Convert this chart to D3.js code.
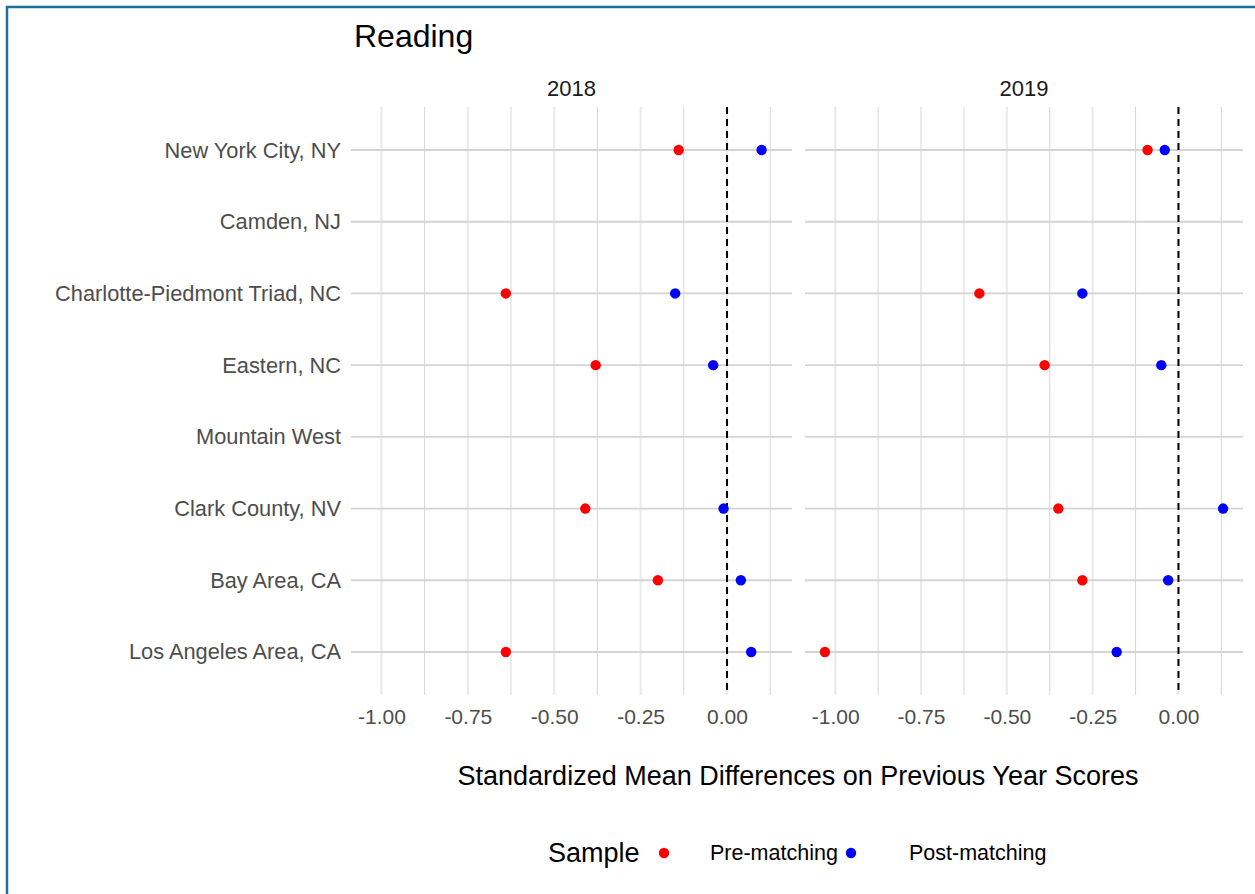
<!DOCTYPE html>
<html>
<head>
<meta charset="utf-8">
<script src="https://cdn.jsdelivr.net/npm/d3@7"></script>
<style>
  body { margin: 0; background: #fff; }
  text { font-family: "Liberation Sans", Arial, sans-serif; }
</style>
</head>
<body>
<svg id="fig" width="1255" height="894"></svg>
<script>
// data
const sites = ["New York City, NY", "Camden, NJ", "Charlotte-Piedmont Triad, NC", "Eastern, NC",
               "Mountain West", "Clark County, NV", "Bay Area, CA", "Los Angeles Area, CA"];
const years = ["2018", "2019"];
const pre2018  = [-0.14, null, -0.64, -0.38, null, -0.41, -0.20, -0.64];
const post2018 = [ 0.10, null, -0.15, -0.04, null, -0.01,  0.04,  0.07];
const pre2019  = [-0.09, null, -0.58, -0.39, null, -0.35, -0.28, -1.03];
const post2019 = [-0.04, null, -0.28, -0.05, null,  0.13, -0.03, -0.18];
const xTicks = [-1.00, -0.75, -0.50, -0.25, 0.00];
const samples = ["Pre-matching", "Post-matching"];
const sampleColors = ["#ff0000", "#0000ff"];

const series = {
  "2018": [pre2018, post2018],
  "2019": [pre2019, post2019]
};

var svg = d3.select("#fig");

// outer frame (only left and top edges visible)
svg.append("line").attr("x1", 7).attr("x2", 7).attr("y1", 6).attr("y2", 894)
   .attr("stroke", "#1a6f9b").attr("stroke-width", 2.5);
svg.append("line").attr("x1", 6).attr("x2", 1255).attr("y1", 7).attr("y2", 7)
   .attr("stroke", "#1a6f9b").attr("stroke-width", 2.5);

const panels = [{ year: years[0], x0: 351, x1: 792 }, { year: years[1], x0: 805, x1: 1243 }];
const yTop = 107, yBot = 695;

const ySc = d3.scalePoint().domain(sites).range([yTop, yBot]).padding(0.6);

// title
svg.append("text").attr("x", 354).attr("y", 47)
   .attr("font-size", 32).attr("fill", "#000").text("Reading");

panels.forEach(p => {
  const xSc = d3.scaleLinear().domain([-1.088, 0.188]).range([p.x0, p.x1]);
  const g = svg.append("g");

  // minor vertical grid
  const minors = d3.range(-1.125, 0.2, 0.25).filter(v => v > -1.088 && v < 0.188);
  g.selectAll(".minor").data(minors).enter().append("line")
   .attr("x1", d => xSc(d)).attr("x2", d => xSc(d)).attr("y1", yTop).attr("y2", yBot)
   .attr("stroke", "#d6d6d6").attr("stroke-width", 1);

  // major vertical grid
  g.selectAll(".major").data(xTicks).enter().append("line")
   .attr("x1", d => xSc(d)).attr("x2", d => xSc(d)).attr("y1", yTop).attr("y2", yBot)
   .attr("stroke", "#ebebeb").attr("stroke-width", 2.2);

  // horizontal grid
  g.selectAll(".hgrid").data(sites).enter().append("line")
   .attr("x1", p.x0).attr("x2", p.x1).attr("y1", d => ySc(d)).attr("y2", d => ySc(d))
   .attr("stroke", "#d4d4d4").attr("stroke-width", 1.8);

  // reference line at zero
  g.append("line").attr("x1", xSc(0)).attr("x2", xSc(0)).attr("y1", yTop).attr("y2", yBot)
   .attr("stroke", "#000").attr("stroke-width", 2).attr("stroke-dasharray", "7,5");

  // x axis
  const xg = svg.append("g").attr("transform", `translate(0,${yBot})`)
    .call(d3.axisBottom(xSc).tickValues(xTicks).tickSize(0).tickPadding(14));
  xg.select(".domain").remove();
  xg.selectAll("text").attr("font-size", 21).attr("fill", "#4d4d4d")
    .attr("font-family", "Liberation Sans, Arial, sans-serif")
    .text(d => d3.format(".2f")(d).replace("−", "-"));

  // strip label
  svg.append("text").attr("x", (p.x0 + p.x1) / 2).attr("y", 96)
     .attr("text-anchor", "middle").attr("font-size", 22).attr("fill", "#1a1a1a").text(p.year);

  // points
  series[p.year].forEach((vals, si) => {
    const pts = vals.map((v, i) => ({ v: v, site: sites[i] })).filter(d => d.v !== null);
    g.selectAll(".pt" + si).data(pts).enter().append("circle")
     .attr("cx", d => xSc(d.v)).attr("cy", d => ySc(d.site)).attr("r", 5.2)
     .attr("fill", sampleColors[si]);
  });
});

// y axis labels
const yg = svg.append("g").attr("transform", "translate(351,0)")
  .call(d3.axisLeft(ySc).tickSize(0).tickPadding(10));
yg.select(".domain").remove();
yg.selectAll("text").attr("font-size", 21.8).attr("fill", "#4d4d4d")
  .attr("font-family", "Liberation Sans, Arial, sans-serif");

// x axis title
svg.append("text").attr("x", 798).attr("y", 785).attr("text-anchor", "middle")
   .attr("font-size", 27).attr("fill", "#000")
   .text("Standardized Mean Differences on Previous Year Scores");

// legend
svg.append("text").attr("x", 548).attr("y", 862).attr("font-size", 27).attr("fill", "#000").text("Sample");
const legDot = [664, 851];
const legText = [710, 909];
samples.forEach((s, i) => {
  svg.append("circle").attr("cx", legDot[i]).attr("cy", 853).attr("r", 5.2).attr("fill", sampleColors[i]);
  svg.append("text").attr("x", legText[i]).attr("y", 860).attr("font-size", 21.5).attr("fill", "#000").text(s);
});
</script>
</body>
</html>
